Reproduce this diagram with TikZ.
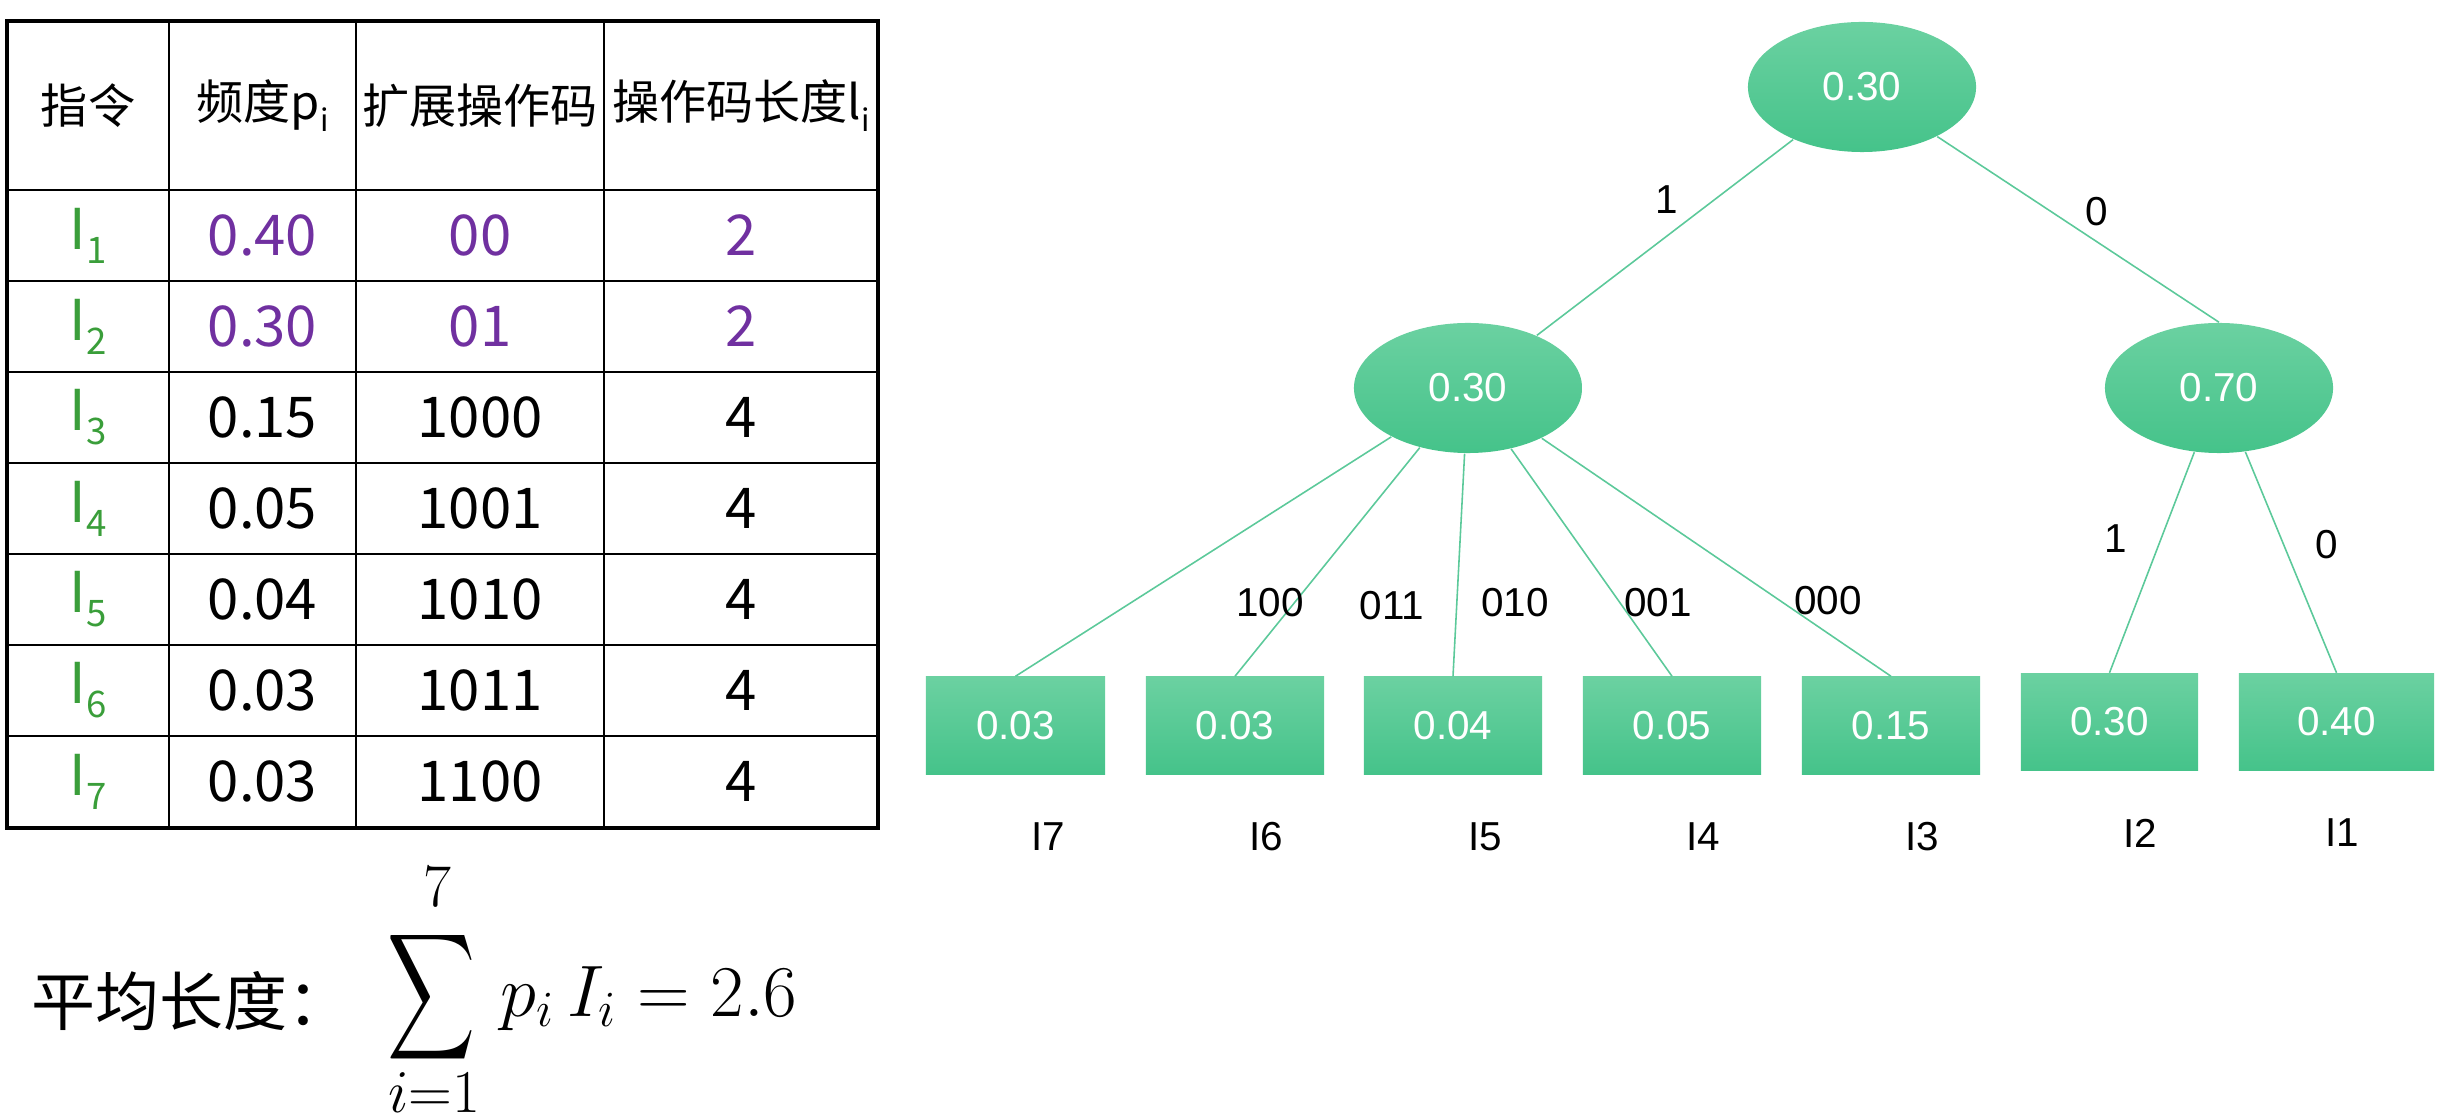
\documentclass[tikz,border=0pt]{standalone}
\usepackage{fontspec}
\usepackage{graphicx}
\setmainfont{Liberation Sans}
\newfontfamily\cjk{Noto Sans CJK SC}
\usetikzlibrary{shapes.geometric}
\definecolor{lineg}{HTML}{5CC99A}
\definecolor{topg}{HTML}{6BD1A1}
\definecolor{botg}{HTML}{45C38A}
\definecolor{insg}{HTML}{3A9E3A}
\definecolor{purp}{HTML}{7030A0}
\newcommand\mysub[1]{\raisebox{-0.25em}{\scalebox{0.65}{#1}}}
\tikzset{
  treenode/.style={ellipse, minimum width=2.28cm, minimum height=1.30cm, top color=topg, bottom color=botg, draw=none, text=white, font=\fontsize{11.5}{13}\selectfont, inner sep=0pt},
  leafbox/.style={rectangle, minimum height=0.97cm, top color=topg, bottom color=botg, draw=none, text=white, font=\fontsize{11.5}{13}\selectfont, inner sep=0pt},
  treeline/.style={draw=lineg, line width=0.45pt},
  elabel/.style={font=\fontsize{11.5}{13}\selectfont, inner sep=0pt},
  cell/.style={font=\cjk\fontsize{16}{18}\selectfont, inner sep=0pt},
  headcell/.style={font=\cjk\fontsize{13.4}{15}\selectfont, inner sep=0pt},
}
\begin{document}
\begin{tikzpicture}[x=0.01cm,y=-0.01cm]
\useasboundingbox (0,0) rectangle (2463,1119);
% ---------- table ----------
\foreach \yy in {190,281,372,463,554,645,736}
  \draw[line width=0.6pt] (7,\yy) -- (878,\yy);
\foreach \xx in {169,356,604}
  \draw[line width=0.6pt] (\xx,21) -- (\xx,828);
\draw[line width=1.1pt] (7,21) rectangle (878,828);
\node[headcell] (h1) at (88,105.5) {指令};
\node[headcell] (h2) at (262.5,105.5) {频度p\mysub{i}};
\node[headcell] (h3) at (480,105.5) {扩展操作码};
\node[headcell] (h4) at (741,105.5) {操作码长度l\mysub{i}};
\foreach \n/\p/\c/\l/\col in {1/0.40/00/2/purp, 2/0.30/01/2/purp, 3/0.15/1000/4/black, 4/0.05/1001/4/black, 5/0.04/1010/4/black, 6/0.03/1011/4/black, 7/0.03/1100/4/black}{
  \node[cell, text=insg] (ins\n) at (88,{144.5+91*\n}) {I\mysub{\n}};
  \node[cell, text=\col] (frq\n) at (262.5,{144.5+91*\n}) {\p};
  \node[cell, text=\col] (cod\n) at (480,{144.5+91*\n}) {\c};
  \node[cell, text=\col] (len\n) at (741,{144.5+91*\n}) {\l};
}
% ---------- formula ----------
\node[anchor=west, font=\cjk\fontsize{18.2}{20}\selectfont, inner sep=0pt] (avg) at (31,1001) {平均长度：};
\node[inner sep=0pt] (sig) at (432,997.5) {\resizebox*{0.88cm}{1.41cm}{$\displaystyle\sum$}};
\node[inner sep=0pt] (sup) at (437,887) {\fontsize{16}{18}\selectfont$7$};
\node[inner sep=0pt] (sub) at (434,1093) {\fontsize{16}{18}\selectfont$i{=}1$};
\node[anchor=base west, inner sep=0pt] (expr) at (500,1016) {\fontsize{22.5}{26}\selectfont$p_i\,I_i = 2.6$};
% ---------- tree ----------
\node[treenode] (root) at (1862,87) {0.30};
\node[treenode] (lmid) at (1468,388) {0.30};
\node[treenode] (rmid) at (2219,388) {0.70};
\node[leafbox, minimum width=1.79cm] (l1) at (1015.5,725.5) {0.03};
\node[leafbox, minimum width=1.78cm] (l2) at (1235,725.5) {0.03};
\node[leafbox, minimum width=1.78cm] (l3) at (1453,725.5) {0.04};
\node[leafbox, minimum width=1.78cm] (l4) at (1672,725.5) {0.05};
\node[leafbox, minimum width=1.78cm] (l5) at (1891,725.5) {0.15};
\node[leafbox, minimum width=1.77cm] (l6) at (2109.5,722) {0.30};
\node[leafbox, minimum width=1.95cm] (l7) at (2336.5,722) {0.40};
\draw[treeline] (root) -- (lmid);
\draw[treeline] (root) -- (rmid.north);
\foreach \k in {1,...,5} \draw[treeline] (lmid) -- (l\k.north);
\draw[treeline] (rmid) -- (l6.north);
\draw[treeline] (rmid) -- (l7.north);
% edge labels
\node[elabel] (e1) at (1667,200) {1};
\node[elabel] (e0) at (2097,212) {0};
\node[elabel] (e61) at (2116,539) {1};
\node[elabel] (e70) at (2327,545) {0};
\node[elabel] (e100) at (1270,603) {100};
\node[elabel] (e011) at (1392,606) {011};
\node[elabel] (e010) at (1515,603) {010};
\node[elabel] (e001) at (1658,603) {001};
\node[elabel] (e000) at (1828,601) {000};
% leaf names
\node[elabel] (n7) at (1048,837) {I7};
\node[elabel] (n6) at (1266,837) {I6};
\node[elabel] (n5) at (1485,837) {I5};
\node[elabel] (n4) at (1703,837) {I4};
\node[elabel] (n3) at (1922,837) {I3};
\node[elabel] (n2) at (2140,833) {I2};
\node[elabel] (n1) at (2342,833) {I1};
\end{tikzpicture}
\end{document}
